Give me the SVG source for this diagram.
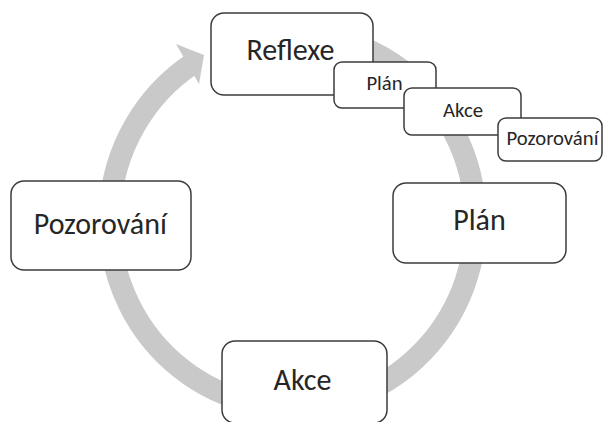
<svg xmlns="http://www.w3.org/2000/svg" width="604" height="422" viewBox="0 0 604 422">
  <style>
    .box { fill: #ffffff; stroke: #3c3c3c; stroke-width: 1.5; }
    .big { font-family: Carlito, Lato, "Liberation Sans", sans-serif; font-size: 30px; fill: #262626; text-anchor: middle; }
    .small { font-family: Carlito, Lato, "Liberation Sans", sans-serif; font-size: 20.7px; fill: #262626; text-anchor: middle; }
    .arc { fill: none; stroke: #c9c9c9; stroke-width: 22; }
  </style>
  <rect width="604" height="422" fill="#ffffff"/>
  <g id="connectors">
    <path class="arc" d="M292.5,33.3 A183,187 0 1 1 191.5,64.4"/>
    <polygon points="176,44 204,55 199,84" fill="#c9c9c9"/>
  </g>
  <g id="node-reflexe">
    <rect class="box" x="211" y="13" width="162" height="82" rx="13"/>
    <text class="big" x="290.5" y="60">Reflexe</text>
  </g>
  <g id="node-plan-small">
    <rect class="box" x="334" y="62" width="102" height="46" rx="8"/>
    <text class="small" x="384.5" y="89.5">Plán</text>
  </g>
  <g id="node-akce-small">
    <rect class="box" x="404" y="88" width="117" height="47" rx="8"/>
    <text class="small" x="463" y="116.5">Akce</text>
  </g>
  <g id="node-pozorovani-small">
    <rect class="box" x="498" y="118" width="104" height="43" rx="8"/>
    <text class="small" x="552.5" y="144.5">Pozorování</text>
  </g>
  <g id="node-plan">
    <rect class="box" x="393" y="183" width="173" height="80" rx="13"/>
    <text class="big" x="479.5" y="230">Plán</text>
  </g>
  <g id="node-akce">
    <rect class="box" x="222" y="341" width="165" height="82" rx="13"/>
    <text class="big" x="302.5" y="390">Akce</text>
  </g>
  <g id="node-pozorovani">
    <rect class="box" x="11" y="181" width="180" height="89" rx="13"/>
    <text class="big" x="100.3" y="233.5">Pozorování</text>
  </g>
</svg>
